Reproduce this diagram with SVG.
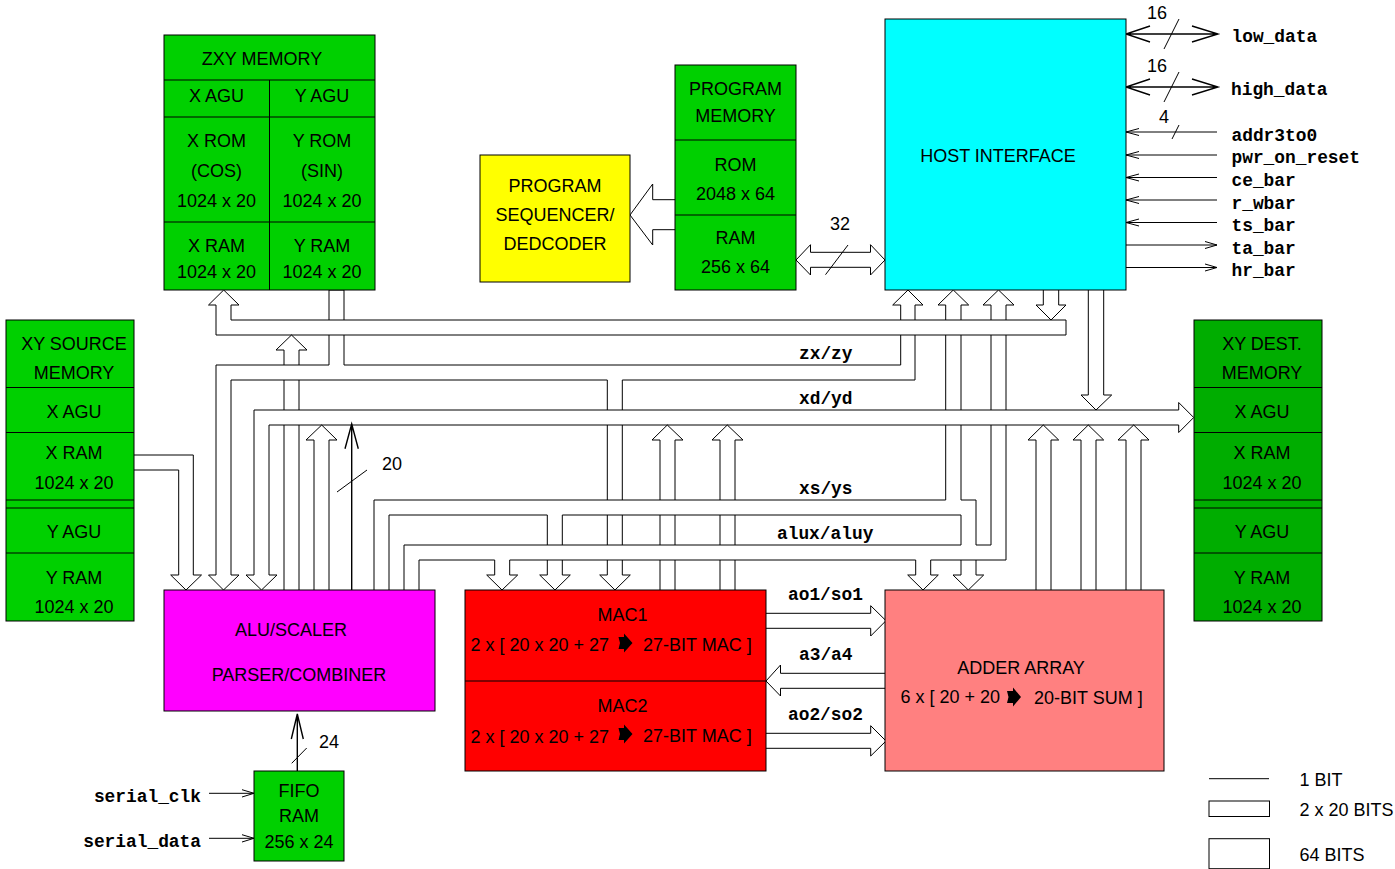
<svg xmlns="http://www.w3.org/2000/svg" width="1395" height="869" viewBox="0 0 1395 869">
<style>
text{font-family:"Liberation Sans",Arial,sans-serif;font-size:18px;fill:#000;text-anchor:middle}
text.s{text-anchor:start}
text.m{font-family:"Liberation Mono","Courier New",monospace;font-size:17.85px;font-weight:700;text-anchor:start}
text.e{font-family:"Liberation Mono","Courier New",monospace;font-size:17.85px;font-weight:700;text-anchor:end}
.n,.d{stroke:#000;stroke-width:1}
.d{fill:none}
.c path{fill:none;stroke:#000;stroke-width:1}
.c path.t{stroke-width:1.4}
.g{fill:#00d000}.k{fill:#00ad00}
.w{fill:#fff}
</style>
<rect width="1395" height="869" fill="#fff"/>
<g id="connectors" class="c">
<path d="M1066,320H231V305H239L223.7,290L208.5,305H216V335H1066Z"/>
<path d="M900.7,320V305H892.7L908,290L923,305H915V320"/>
<path d="M945.7,320V305H938L953.3,290L968.7,305H961V320"/>
<path d="M991,320V305H983L998.5,290L1014,305H1006V320"/>
<path d="M1043.3,290V305H1036L1051,320L1066,305H1058.7V290"/>
<path d="M1088.3,290V395H1081L1096,410L1111.7,395H1103.7V290"/>
<path d="M329,320V290H344V320"/>
<path d="M900.7,335V365H344V335"/>
<path d="M915,335V380H622.3V410"/>
<path d="M607.3,410V380H231V575H239L223.5,590L208.5,575H216V365H329V335"/>
<path d="M284,365V350H276L291.5,335L307,350H299V365"/>
<path d="M284,380V410M299,380V410M284,425V590M299,425V590"/>
<path d="M314,590V440H306L321.7,425L337,440H329V590"/>
<path d="M1178.7,410H254V575H246L261.5,590L277,575H269V425H1178.7V432.500L1193.7,417.500L1178.7,402.500V410"/>
<path d="M607.3,425V500M622.3,425V500M607.3,515V545M622.3,515V545M607.3,560V575H599.7L615,590L630.3,575H622.3V560"/>
<path d="M660,500V440H652L667.3,425L683,440H675V500M660,515V545M675,515V545M660,560V590M675,560V590"/>
<path d="M720,500V440H712L727.3,425L743,440H735V500M720,515V545M735,515V545M720,560V590M735,560V590"/>
<path d="M945.7,335V410M961,335V410M991,335V410M1006,335V410"/>
<path d="M374,590V500H945.7V425"/>
<path d="M961,425V500H976V545H991V425"/>
<path d="M1006,425V560H930.7V575H938.3L923,590L907.7,575H915.7V560H509.7V575H517.7L502,590L486.7,575H494.7V560H419V590"/>
<path d="M404,590V545H961"/>
<path d="M389,590V515H547.3V545M562.3,545V515H961V545"/>
<path d="M547.3,560V575H539.7L555,590L570.3,575H562.3V560"/>
<path d="M961,560V575H953L968.3,590L983.7,575H976V560"/>
<path d="M1036,590V440H1028L1043.3,425L1058.7,440H1051V590"/>
<path d="M1081,590V440H1073L1088.3,425L1103.7,440H1096V590"/>
<path d="M1126,590V440H1118L1133.7,425L1149,440H1141V590"/>
<path d="M134,455H193.3V575H201.5L186,590L170.7,575H178.7V470H134"/>
<path class="t" d="M351.7,590V424M345,448.7L351.7,424L358.3,448.7"/>
<path d="M337,492L367,470"/>
<path class="t" d="M297.3,771V714M291.3,739L297.3,714L303.3,739"/>
<path d="M291.7,763.3L306.7,748"/>
<path d="M209,793.3H254M242,789.7L254,793.3L242,797M209,838.3H254M242,834.7L254,838.3L242,842"/>
<path d="M675,199.7H652.7V184L630,215L652.7,245V229.7H675"/>
<path d="M796,260L810.5,244.7V252.3H870.5V244.7L885,260L870.5,275V267.3H810.5V275Z"/>
<path d="M825.5,274.7L848,245"/>
<path d="M766,613.3H870.7V605.7L886,620.7L870.7,636V628.3H766"/>
<path d="M885,673.3H780.5V665L766,681L780.5,696V688.3H885"/>
<path d="M766,733.3H870.7V725.7L886,741L870.7,756V748.3H766"/>
<path class="t" d="M1126,34H1218M1150,26L1126,34L1150,42M1192,26L1218,34L1192,42"/>
<path d="M1164,49L1179,19"/>
<path class="t" d="M1126,87H1218M1150,79L1126,87L1150,95M1192,79L1218,87L1192,95"/>
<path d="M1164,102L1179,72"/>
<path d="M1126,132H1217M1139,128.500L1126,132L1139,135.500"/>
<path d="M1172,139L1179,125"/>
<path d="M1126,155H1217M1139,151.500L1126,155L1139,158.500"/>
<path d="M1126,177.500H1217M1139,174L1126,177.500L1139,181"/>
<path d="M1126,200H1217M1139,196.500L1126,200L1139,203.500"/>
<path d="M1126,222.500H1217M1139,219L1126,222.500L1139,226"/>
<path d="M1126,245H1217M1205,241.500L1217,245L1205,248.500"/>
<path d="M1126,267.500H1217M1205,264L1217,267.500L1205,271"/>
</g>
<g id="bus-labels">
<text class="m" x="799" y="359">zx/zy</text>
<text class="m" x="799" y="404">xd/yd</text>
<text class="m" x="799" y="494">xs/ys</text>
<text class="m" x="777" y="539">alux/aluy</text>
<text class="m" x="788" y="600">ao1/so1</text>
<text class="m" x="799" y="660">a3/a4</text>
<text class="m" x="788" y="720">ao2/so2</text>
<text x="392" y="470">20</text>
<text x="840" y="230">32</text>
<text x="329" y="748">24</text>
<text x="1157" y="19">16</text>
<text x="1157" y="72">16</text>
<text x="1164" y="123">4</text>
</g>
<g id="zxy-memory">
<rect class="n g" x="164" y="35" width="211" height="255"/>
<path class="d" d="M164,80H375M164,117H375M164,222H375M269.5,80V290"/>
<text x="262" y="65">ZXY MEMORY</text>
<text x="216.5" y="102">X AGU</text><text x="322" y="102">Y AGU</text>
<text x="216.5" y="147">X ROM</text><text x="322" y="147">Y ROM</text>
<text x="216.5" y="177">(COS)</text><text x="322" y="177">(SIN)</text>
<text x="216.5" y="207">1024 x 20</text><text x="322" y="207">1024 x 20</text>
<text x="216.5" y="252">X RAM</text><text x="322" y="252">Y RAM</text>
<text x="216.5" y="278">1024 x 20</text><text x="322" y="278">1024 x 20</text>
</g>
<g id="program-memory">
<rect class="n g" x="675" y="65" width="121" height="225"/>
<path class="d" d="M675,140H796M675,215H796"/>
<text x="735.5" y="95">PROGRAM</text><text x="735.5" y="122">MEMORY</text>
<text x="735.5" y="171">ROM</text><text x="735.5" y="200">2048 x 64</text>
<text x="735.5" y="244">RAM</text><text x="735.5" y="273">256 x 64</text>
</g>
<g id="program-sequencer">
<rect class="n" fill="#ff0" x="480" y="155" width="150" height="127"/>
<text x="555" y="192">PROGRAM</text><text x="555" y="221">SEQUENCER/</text><text x="555" y="250">DEDCODER</text>
</g>
<g id="host-interface">
<rect class="n" fill="#0ff" x="885" y="19" width="241" height="271"/>
<text x="998" y="162">HOST INTERFACE</text>
</g>
<g id="host-signals">
<text class="m" x="1231.5" y="42">low_data</text>
<text class="m" x="1231" y="94.5">high_data</text>
<text class="m" x="1231.5" y="141">addr3to0</text>
<text class="m" x="1231.5" y="163">pwr_on_reset</text>
<text class="m" x="1231.5" y="186">ce_bar</text>
<text class="m" x="1231.5" y="209">r_wbar</text>
<text class="m" x="1231.5" y="231">ts_bar</text>
<text class="m" x="1231.5" y="254">ta_bar</text>
<text class="m" x="1231.5" y="276">hr_bar</text>
</g>
<g id="xy-source-memory">
<rect class="n g" x="6" y="320" width="128" height="301"/>
<path class="d" d="M6,387.500H134M6,432.500H134M6,500H134M6,508H134M6,553H134"/>
<text x="74" y="350">XY SOURCE</text><text x="74" y="379">MEMORY</text>
<text x="74" y="418">X AGU</text><text x="74" y="459">X RAM</text><text x="74" y="489">1024 x 20</text>
<text x="74" y="538">Y AGU</text><text x="74" y="584">Y RAM</text><text x="74" y="613">1024 x 20</text>
</g>
<g id="xy-dest-memory">
<rect class="n k" x="1194" y="320" width="128" height="301"/>
<path class="d" d="M1194,387.500H1322M1194,432.500H1322M1194,500H1322M1194,508H1322M1194,553H1322"/>
<text x="1262" y="350">XY DEST.</text><text x="1262" y="379">MEMORY</text>
<text x="1262" y="418">X AGU</text><text x="1262" y="459">X RAM</text><text x="1262" y="489">1024 x 20</text>
<text x="1262" y="538">Y AGU</text><text x="1262" y="584">Y RAM</text><text x="1262" y="613">1024 x 20</text>
</g>
<g id="alu-scaler">
<rect class="n" fill="#f0f" x="164" y="590" width="271" height="121"/>
<text x="291" y="636">ALU/SCALER</text><text x="299" y="681">PARSER/COMBINER</text>
</g>
<g id="mac">
<rect class="n" fill="#f00" x="465" y="590" width="301" height="181"/>
<path class="d" d="M465,681H766"/>
<text x="622.5" y="621">MAC1</text>
<text class="s" x="470.5" y="651">2 x [ 20 x 20 + 27</text>
<polygon points="618.5,637 624,637 624,633.500 632.5,643 624,652.500 624,649 618.5,649 620,643"/>
<text class="s" x="643" y="651">27-BIT MAC ]</text>
<text x="622.5" y="712">MAC2</text>
<text class="s" x="470.5" y="743">2 x [ 20 x 20 + 27</text>
<polygon points="618.5,728 624,728 624,724.500 632.5,734 624,743.500 624,740 618.5,740 620,734"/>
<text class="s" x="643" y="742">27-BIT MAC ]</text>
</g>
<g id="adder-array">
<rect class="n" fill="#ff8080" x="885" y="590" width="279" height="181"/>
<text x="1021" y="674">ADDER ARRAY</text>
<text class="s" x="900.5" y="703">6 x [ 20 + 20</text>
<polygon points="1007,691 1013,691 1013,687.500 1021,697 1013,706.500 1013,703 1007,703 1008.5,697"/>
<text class="s" x="1034" y="704">20-BIT SUM ]</text>
</g>
<g id="fifo-ram">
<rect class="n g" x="254" y="771" width="90" height="90"/>
<text x="299" y="797">FIFO</text><text x="299" y="822">RAM</text><text x="299" y="848">256 x 24</text>
</g>
<g id="serial-signals">
<text class="e" x="201" y="802">serial_clk</text>
<text class="e" x="201" y="847">serial_data</text>
</g>
<g id="legend">
<path class="d" d="M1209,778.700H1269"/>
<rect class="n w" x="1209" y="801" width="60.500" height="15.500"/>
<rect class="n w" x="1209" y="838.700" width="60.500" height="30"/>
<text class="s" x="1299.5" y="786">1 BIT</text>
<text class="s" x="1299.5" y="816">2 x 20 BITS</text>
<text class="s" x="1299.5" y="861">64 BITS</text>
</g>
</svg>
